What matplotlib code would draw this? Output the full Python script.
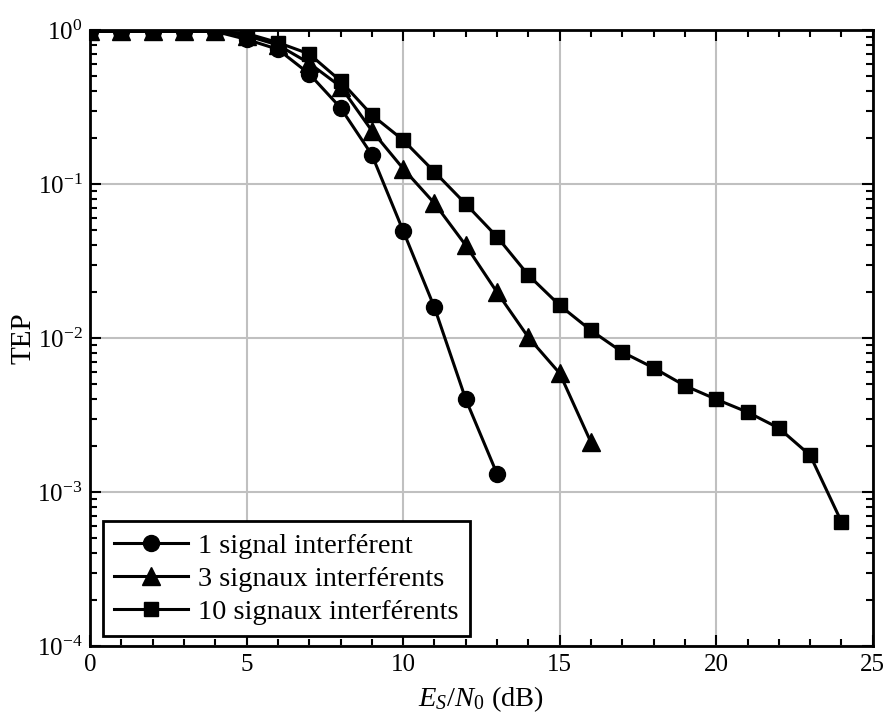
import matplotlib
matplotlib.use("Agg")
import matplotlib.pyplot as plt
from matplotlib.ticker import MultipleLocator, LogLocator, NullFormatter

plt.rcParams['font.family'] = ['Liberation Serif', 'DejaVu Serif']
plt.rcParams['mathtext.fontset'] = 'custom'
plt.rcParams['mathtext.rm'] = 'Liberation Serif'
plt.rcParams['mathtext.it'] = 'Liberation Serif:italic'

# Es/N0 (dB) and TEP
x1 = [0, 1, 2, 3, 4, 5, 6, 7, 8, 9, 10, 11, 12, 13]
tep1 = [0.98, 0.98, 0.98, 0.98, 0.98, 0.87, 0.75, 0.52, 0.313, 0.155,
        0.0497, 0.0158, 0.0040, 0.00131]

x3 = [0, 1, 2, 3, 4, 5, 6, 7, 8, 9, 10, 11, 12, 13, 14, 15, 16]
tep3 = [0.98, 0.98, 0.98, 0.98, 0.98, 0.92, 0.80, 0.61, 0.43, 0.222,
        0.126, 0.075, 0.040, 0.0198, 0.0101, 0.0059, 0.0021]

x10 = list(range(0, 25))
tep10 = [0.98, 0.98, 0.98, 0.98, 0.98, 0.95, 0.83, 0.70, 0.468, 0.281,
         0.193, 0.120, 0.0742, 0.0454, 0.0256, 0.0163, 0.0112, 0.0081,
         0.0064, 0.0049, 0.0040, 0.0033, 0.0026, 0.00173, 0.00064]

labels = ['1 signal interférent', '3 signaux interférents',
          '10 signaux interférents']

fig = plt.figure(figsize=(8.87, 7.16), dpi=100)
ax = fig.add_axes([0.1015, 0.0978, 0.8825, 0.8602])

ax.semilogy(x1, tep1, 'k-', marker='o', ms=11.5, lw=2.2, label=labels[0], zorder=3)
ax.semilogy(x3, tep3, 'k-', marker='^', ms=12.5, lw=2.2, label=labels[1], zorder=3)
ax.semilogy(x10, tep10, 'k-', marker='s', ms=10.5, lw=2.2, label=labels[2], zorder=3)

ax.set_xlim(0, 25)
ax.set_ylim(1e-4, 1)
ax.xaxis.set_major_locator(MultipleLocator(5))
ax.xaxis.set_minor_locator(MultipleLocator(1))
ax.yaxis.set_major_locator(LogLocator(base=10, numticks=10))
ax.yaxis.set_minor_locator(LogLocator(base=10, subs=range(2, 10), numticks=20))
ax.yaxis.set_minor_formatter(NullFormatter())

ax.grid(True, which='major', color='#c0c0c0', lw=1.5)
ax.set_axisbelow(True)
for s in ax.spines.values():
    s.set_linewidth(2)
ax.tick_params(which='both', direction='in', top=True, right=True,
               labelsize=18, width=1.5, pad=5.5)
ax.tick_params(which='major', length=8)
ax.tick_params(which='minor', length=5)

ax.set_xlabel('$E_S/N_0$ (dB)', fontsize=20.5, labelpad=6)
ax.set_ylabel('TEP', fontsize=21, labelpad=0)

leg = ax.legend(loc='lower left', bbox_to_anchor=(0.0166, 0.0162),
                borderaxespad=0, fontsize=20.5, fancybox=False,
                edgecolor='black', framealpha=1,
                handlelength=2.6, handletextpad=0.35, labelspacing=0.25,
                borderpad=0.4)
leg.get_frame().set_linewidth(2)

fig.savefig('out.png', dpi=100)
